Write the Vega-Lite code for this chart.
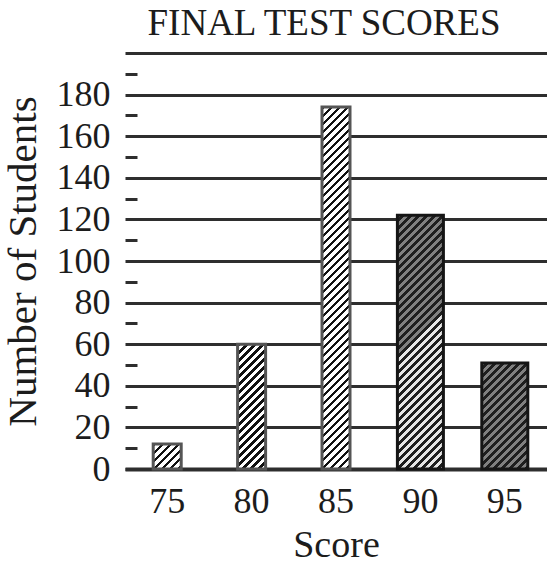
{
"$schema": "https://vega.github.io/schema/vega-lite/v6.json",
"width": 422,
"height": 416,
"autosize": {"type": "none"},
"padding": {"left": 125, "top": 53, "right": 0, "bottom": 96},
"background": "white",
"title": {"text": "FINAL TEST SCORES", "font": "Liberation Serif", "fontSize": 37, "fontWeight": "normal", "color": "#1c1c1c", "anchor": "middle", "dx": -12, "baseline": "alphabetic", "offset": -19},
"data": {"values": [
{"score": 75, "students": 12},
{"score": 80, "students": 60},
{"score": 85, "students": 174},
{"score": 90, "students": 122},
{"score": 95, "students": 51}
]},
"mark": {"type": "bar", "strokeWidth": 3},
"encoding": {
"x": {"field": "score", "type": "ordinal", "scale": {"paddingInner": 0, "paddingOuter": 0},
 "axis": {"title": "Score", "titleFont": "Liberation Serif", "titleFontSize": 38, "titleFontWeight": "normal", "titleColor": "#1c1c1c", "titlePadding": 7,
  "labelFont": "Liberation Serif", "labelFontSize": 36, "labelColor": "#1c1c1c", "labelAngle": 0, "labelPadding": 15, "ticks": false, "tickSize": 0,
  "domainColor": "#2e2e2e", "domainWidth": 4}},
"y": {"field": "students", "type": "quantitative", "scale": {"domain": [0, 200]},
 "axis": {"title": "Number of Students", "titleFont": "Liberation Serif", "titleFontSize": 41, "titleFontWeight": "normal", "titleColor": "#1c1c1c", "titlePadding": 12,
  "values": [0,10,20,30,40,50,60,70,80,90,100,110,120,130,140,150,160,170,180,190,200],
  "labelExpr": "datum.value % 20 === 0 && datum.value < 200 ? datum.label : ''",
  "labelFont": "Liberation Serif", "labelFontSize": 36, "labelColor": "#1c1c1c", "labelPadding": 27,
  "domain": false, "grid": true, "gridColor": "#2e2e2e", "gridWidth": 3,
  "gridOpacity": {"condition": {"test": "datum.value % 20 === 0", "value": 1}, "value": 0},
  "tickSize": -12, "tickWidth": 3, "tickColor": "#2e2e2e",
  "tickOpacity": {"condition": {"test": "datum.value % 20 !== 0", "value": 1}, "value": 0}}},
"size": {"condition": {"test": "datum.score >= 90", "value": 46}, "value": 28},
"stroke": {"condition": {"test": "datum.score >= 90", "value": "#151515"}, "value": "#555555"},
"fill": {"condition": [
{"test": "datum.score === 75", "value": {"gradient": "linear", "x1": 0, "y1": 0, "x2": 7.949, "y2": 7.097, "stops": [
{"offset":0,"color":"#111"},{"offset":0.009,"color":"#111"},{"offset":0.009,"color":"#fff"},{"offset":0.02,"color":"#fff"},
{"offset":0.02,"color":"#111"},{"offset":0.029,"color":"#111"},{"offset":0.029,"color":"#fff"},{"offset":0.04,"color":"#fff"},
{"offset":0.04,"color":"#111"},{"offset":0.049,"color":"#111"},{"offset":0.049,"color":"#fff"},{"offset":0.06,"color":"#fff"},
{"offset":0.06,"color":"#111"},{"offset":0.069,"color":"#111"},{"offset":0.069,"color":"#fff"},{"offset":0.08,"color":"#fff"},
{"offset":0.08,"color":"#111"},{"offset":0.089,"color":"#111"},{"offset":0.089,"color":"#fff"},{"offset":0.1,"color":"#fff"},
{"offset":0.1,"color":"#111"},{"offset":0.109,"color":"#111"},{"offset":0.109,"color":"#fff"},{"offset":0.12,"color":"#fff"},
{"offset":0.12,"color":"#111"},{"offset":0.129,"color":"#111"},{"offset":0.129,"color":"#fff"},{"offset":0.14,"color":"#fff"}
]}},
{"test": "datum.score === 80", "value": {"gradient": "linear", "x1": 0, "y1": 0, "x2": 0.6846, "y2": 3.0515, "stops": [
{"offset":0,"color":"#111"},{"offset":0.009,"color":"#111"},{"offset":0.009,"color":"#fff"},{"offset":0.02,"color":"#fff"},
{"offset":0.02,"color":"#111"},{"offset":0.029,"color":"#111"},{"offset":0.029,"color":"#fff"},{"offset":0.04,"color":"#fff"},
{"offset":0.04,"color":"#111"},{"offset":0.049,"color":"#111"},{"offset":0.049,"color":"#fff"},{"offset":0.06,"color":"#fff"},
{"offset":0.06,"color":"#111"},{"offset":0.069,"color":"#111"},{"offset":0.069,"color":"#fff"},{"offset":0.08,"color":"#fff"},
{"offset":0.08,"color":"#111"},{"offset":0.089,"color":"#111"},{"offset":0.089,"color":"#fff"},{"offset":0.1,"color":"#fff"},
{"offset":0.1,"color":"#111"},{"offset":0.109,"color":"#111"},{"offset":0.109,"color":"#fff"},{"offset":0.12,"color":"#fff"},
{"offset":0.12,"color":"#111"},{"offset":0.129,"color":"#111"},{"offset":0.129,"color":"#fff"},{"offset":0.14,"color":"#fff"},
{"offset":0.14,"color":"#111"},{"offset":0.149,"color":"#111"},{"offset":0.149,"color":"#fff"},{"offset":0.16,"color":"#fff"},
{"offset":0.16,"color":"#111"},{"offset":0.169,"color":"#111"},{"offset":0.169,"color":"#fff"},{"offset":0.18,"color":"#fff"},
{"offset":0.18,"color":"#111"},{"offset":0.189,"color":"#111"},{"offset":0.189,"color":"#fff"},{"offset":0.2,"color":"#fff"},
{"offset":0.2,"color":"#111"},{"offset":0.209,"color":"#111"},{"offset":0.209,"color":"#fff"},{"offset":0.22,"color":"#fff"},
{"offset":0.22,"color":"#111"},{"offset":0.229,"color":"#111"},{"offset":0.229,"color":"#fff"},{"offset":0.24,"color":"#fff"},
{"offset":0.24,"color":"#111"},{"offset":0.249,"color":"#111"},{"offset":0.249,"color":"#fff"},{"offset":0.26,"color":"#fff"},
{"offset":0.26,"color":"#111"},{"offset":0.269,"color":"#111"},{"offset":0.269,"color":"#fff"},{"offset":0.28,"color":"#fff"},
{"offset":0.28,"color":"#111"},{"offset":0.289,"color":"#111"},{"offset":0.289,"color":"#fff"},{"offset":0.3,"color":"#fff"},
{"offset":0.3,"color":"#111"},{"offset":0.309,"color":"#111"},{"offset":0.309,"color":"#fff"},{"offset":0.32,"color":"#fff"},
{"offset":0.32,"color":"#111"},{"offset":0.329,"color":"#111"},{"offset":0.329,"color":"#fff"},{"offset":0.34,"color":"#fff"},
{"offset":0.34,"color":"#111"},{"offset":0.349,"color":"#111"},{"offset":0.349,"color":"#fff"},{"offset":0.36,"color":"#fff"},
{"offset":0.36,"color":"#111"},{"offset":0.369,"color":"#111"},{"offset":0.369,"color":"#fff"},{"offset":0.38,"color":"#fff"}
]}},
{"test": "datum.score === 85", "value": {"gradient": "linear", "x1": 0, "y1": 0, "x2": 0.085, "y2": 1.0987, "stops": [
{"offset":0,"color":"#111"},{"offset":0.009,"color":"#111"},{"offset":0.009,"color":"#fff"},{"offset":0.02,"color":"#fff"},
{"offset":0.02,"color":"#111"},{"offset":0.029,"color":"#111"},{"offset":0.029,"color":"#fff"},{"offset":0.04,"color":"#fff"},
{"offset":0.04,"color":"#111"},{"offset":0.049,"color":"#111"},{"offset":0.049,"color":"#fff"},{"offset":0.06,"color":"#fff"},
{"offset":0.06,"color":"#111"},{"offset":0.069,"color":"#111"},{"offset":0.069,"color":"#fff"},{"offset":0.08,"color":"#fff"},
{"offset":0.08,"color":"#111"},{"offset":0.089,"color":"#111"},{"offset":0.089,"color":"#fff"},{"offset":0.1,"color":"#fff"},
{"offset":0.1,"color":"#111"},{"offset":0.109,"color":"#111"},{"offset":0.109,"color":"#fff"},{"offset":0.12,"color":"#fff"},
{"offset":0.12,"color":"#111"},{"offset":0.129,"color":"#111"},{"offset":0.129,"color":"#fff"},{"offset":0.14,"color":"#fff"},
{"offset":0.14,"color":"#111"},{"offset":0.149,"color":"#111"},{"offset":0.149,"color":"#fff"},{"offset":0.16,"color":"#fff"},
{"offset":0.16,"color":"#111"},{"offset":0.169,"color":"#111"},{"offset":0.169,"color":"#fff"},{"offset":0.18,"color":"#fff"},
{"offset":0.18,"color":"#111"},{"offset":0.189,"color":"#111"},{"offset":0.189,"color":"#fff"},{"offset":0.2,"color":"#fff"},
{"offset":0.2,"color":"#111"},{"offset":0.209,"color":"#111"},{"offset":0.209,"color":"#fff"},{"offset":0.22,"color":"#fff"},
{"offset":0.22,"color":"#111"},{"offset":0.229,"color":"#111"},{"offset":0.229,"color":"#fff"},{"offset":0.24,"color":"#fff"},
{"offset":0.24,"color":"#111"},{"offset":0.249,"color":"#111"},{"offset":0.249,"color":"#fff"},{"offset":0.26,"color":"#fff"},
{"offset":0.26,"color":"#111"},{"offset":0.269,"color":"#111"},{"offset":0.269,"color":"#fff"},{"offset":0.28,"color":"#fff"},
{"offset":0.28,"color":"#111"},{"offset":0.289,"color":"#111"},{"offset":0.289,"color":"#fff"},{"offset":0.3,"color":"#fff"},
{"offset":0.3,"color":"#111"},{"offset":0.309,"color":"#111"},{"offset":0.309,"color":"#fff"},{"offset":0.32,"color":"#fff"},
{"offset":0.32,"color":"#111"},{"offset":0.329,"color":"#111"},{"offset":0.329,"color":"#fff"},{"offset":0.34,"color":"#fff"},
{"offset":0.34,"color":"#111"},{"offset":0.349,"color":"#111"},{"offset":0.349,"color":"#fff"},{"offset":0.36,"color":"#fff"},
{"offset":0.36,"color":"#111"},{"offset":0.369,"color":"#111"},{"offset":0.369,"color":"#fff"},{"offset":0.38,"color":"#fff"},
{"offset":0.38,"color":"#111"},{"offset":0.389,"color":"#111"},{"offset":0.389,"color":"#fff"},{"offset":0.4,"color":"#fff"},
{"offset":0.4,"color":"#111"},{"offset":0.409,"color":"#111"},{"offset":0.409,"color":"#fff"},{"offset":0.42,"color":"#fff"},
{"offset":0.42,"color":"#111"},{"offset":0.429,"color":"#111"},{"offset":0.429,"color":"#fff"},{"offset":0.44,"color":"#fff"},
{"offset":0.44,"color":"#111"},{"offset":0.449,"color":"#111"},{"offset":0.449,"color":"#fff"},{"offset":0.46,"color":"#fff"},
{"offset":0.46,"color":"#111"},{"offset":0.469,"color":"#111"},{"offset":0.469,"color":"#fff"},{"offset":0.48,"color":"#fff"},
{"offset":0.48,"color":"#111"},{"offset":0.489,"color":"#111"},{"offset":0.489,"color":"#fff"},{"offset":0.5,"color":"#fff"},
{"offset":0.5,"color":"#111"},{"offset":0.509,"color":"#111"},{"offset":0.509,"color":"#fff"},{"offset":0.52,"color":"#fff"},
{"offset":0.52,"color":"#111"},{"offset":0.529,"color":"#111"},{"offset":0.529,"color":"#fff"},{"offset":0.54,"color":"#fff"},
{"offset":0.54,"color":"#111"},{"offset":0.549,"color":"#111"},{"offset":0.549,"color":"#fff"},{"offset":0.56,"color":"#fff"},
{"offset":0.56,"color":"#111"},{"offset":0.569,"color":"#111"},{"offset":0.569,"color":"#fff"},{"offset":0.58,"color":"#fff"},
{"offset":0.58,"color":"#111"},{"offset":0.589,"color":"#111"},{"offset":0.589,"color":"#fff"},{"offset":0.6,"color":"#fff"},
{"offset":0.6,"color":"#111"},{"offset":0.609,"color":"#111"},{"offset":0.609,"color":"#fff"},{"offset":0.62,"color":"#fff"},
{"offset":0.62,"color":"#111"},{"offset":0.629,"color":"#111"},{"offset":0.629,"color":"#fff"},{"offset":0.64,"color":"#fff"},
{"offset":0.64,"color":"#111"},{"offset":0.649,"color":"#111"},{"offset":0.649,"color":"#fff"},{"offset":0.66,"color":"#fff"},
{"offset":0.66,"color":"#111"},{"offset":0.669,"color":"#111"},{"offset":0.669,"color":"#fff"},{"offset":0.68,"color":"#fff"},
{"offset":0.68,"color":"#111"},{"offset":0.689,"color":"#111"},{"offset":0.689,"color":"#fff"},{"offset":0.7,"color":"#fff"},
{"offset":0.7,"color":"#111"},{"offset":0.709,"color":"#111"},{"offset":0.709,"color":"#fff"},{"offset":0.72,"color":"#fff"},
{"offset":0.72,"color":"#111"},{"offset":0.729,"color":"#111"},{"offset":0.729,"color":"#fff"},{"offset":0.74,"color":"#fff"},
{"offset":0.74,"color":"#111"},{"offset":0.749,"color":"#111"},{"offset":0.749,"color":"#fff"},{"offset":0.76,"color":"#fff"},
{"offset":0.76,"color":"#111"},{"offset":0.769,"color":"#111"},{"offset":0.769,"color":"#fff"},{"offset":0.78,"color":"#fff"},
{"offset":0.78,"color":"#111"},{"offset":0.789,"color":"#111"},{"offset":0.789,"color":"#fff"},{"offset":0.8,"color":"#fff"},
{"offset":0.8,"color":"#111"},{"offset":0.809,"color":"#111"},{"offset":0.809,"color":"#fff"},{"offset":0.82,"color":"#fff"},
{"offset":0.82,"color":"#111"},{"offset":0.829,"color":"#111"},{"offset":0.829,"color":"#fff"},{"offset":0.84,"color":"#fff"},
{"offset":0.84,"color":"#111"},{"offset":0.849,"color":"#111"},{"offset":0.849,"color":"#fff"},{"offset":0.86,"color":"#fff"},
{"offset":0.86,"color":"#111"},{"offset":0.869,"color":"#111"},{"offset":0.869,"color":"#fff"},{"offset":0.88,"color":"#fff"},
{"offset":0.88,"color":"#111"},{"offset":0.889,"color":"#111"},{"offset":0.889,"color":"#fff"},{"offset":0.9,"color":"#fff"},
{"offset":0.9,"color":"#111"},{"offset":0.909,"color":"#111"},{"offset":0.909,"color":"#fff"},{"offset":0.92,"color":"#fff"},
{"offset":0.92,"color":"#111"},{"offset":0.929,"color":"#111"},{"offset":0.929,"color":"#fff"},{"offset":0.94,"color":"#fff"},
{"offset":0.94,"color":"#111"},{"offset":0.949,"color":"#111"},{"offset":0.949,"color":"#fff"},{"offset":0.96,"color":"#fff"},
{"offset":0.96,"color":"#111"},{"offset":0.969,"color":"#111"},{"offset":0.969,"color":"#fff"},{"offset":0.98,"color":"#fff"}
]}},
{"test": "datum.score === 90", "value": {"gradient": "linear", "x1": 0, "y1": 0, "x2": 0.2766, "y2": 1.5259, "stops": [
{"offset":0,"color":"#808080"},{"offset":0.009,"color":"#808080"},{"offset":0.009,"color":"#1e1e1e"},{"offset":0.02,"color":"#1e1e1e"},
{"offset":0.02,"color":"#808080"},{"offset":0.029,"color":"#808080"},{"offset":0.029,"color":"#1e1e1e"},{"offset":0.04,"color":"#1e1e1e"},
{"offset":0.04,"color":"#808080"},{"offset":0.049,"color":"#808080"},{"offset":0.049,"color":"#1e1e1e"},{"offset":0.06,"color":"#1e1e1e"},
{"offset":0.06,"color":"#808080"},{"offset":0.069,"color":"#808080"},{"offset":0.069,"color":"#1e1e1e"},{"offset":0.08,"color":"#1e1e1e"},
{"offset":0.08,"color":"#808080"},{"offset":0.089,"color":"#808080"},{"offset":0.089,"color":"#1e1e1e"},{"offset":0.1,"color":"#1e1e1e"},
{"offset":0.1,"color":"#808080"},{"offset":0.109,"color":"#808080"},{"offset":0.109,"color":"#1e1e1e"},{"offset":0.12,"color":"#1e1e1e"},
{"offset":0.12,"color":"#808080"},{"offset":0.129,"color":"#808080"},{"offset":0.129,"color":"#1e1e1e"},{"offset":0.14,"color":"#1e1e1e"},
{"offset":0.14,"color":"#808080"},{"offset":0.149,"color":"#808080"},{"offset":0.149,"color":"#1e1e1e"},{"offset":0.16,"color":"#1e1e1e"},
{"offset":0.16,"color":"#808080"},{"offset":0.169,"color":"#808080"},{"offset":0.169,"color":"#1e1e1e"},{"offset":0.18,"color":"#1e1e1e"},
{"offset":0.18,"color":"#808080"},{"offset":0.189,"color":"#808080"},{"offset":0.189,"color":"#1e1e1e"},{"offset":0.2,"color":"#1e1e1e"},
{"offset":0.2,"color":"#808080"},{"offset":0.209,"color":"#808080"},{"offset":0.209,"color":"#1e1e1e"},{"offset":0.22,"color":"#1e1e1e"},
{"offset":0.22,"color":"#808080"},{"offset":0.229,"color":"#808080"},{"offset":0.229,"color":"#1e1e1e"},{"offset":0.24,"color":"#1e1e1e"},
{"offset":0.24,"color":"#808080"},{"offset":0.249,"color":"#808080"},{"offset":0.249,"color":"#1e1e1e"},{"offset":0.26,"color":"#1e1e1e"},
{"offset":0.26,"color":"#808080"},{"offset":0.269,"color":"#808080"},{"offset":0.269,"color":"#1e1e1e"},{"offset":0.28,"color":"#1e1e1e"},
{"offset":0.28,"color":"#808080"},{"offset":0.289,"color":"#808080"},{"offset":0.289,"color":"#1e1e1e"},{"offset":0.3,"color":"#1e1e1e"},
{"offset":0.3,"color":"#808080"},{"offset":0.309,"color":"#808080"},{"offset":0.309,"color":"#1e1e1e"},{"offset":0.32,"color":"#1e1e1e"},
{"offset":0.32,"color":"#808080"},{"offset":0.329,"color":"#808080"},{"offset":0.329,"color":"#1e1e1e"},{"offset":0.34,"color":"#1e1e1e"},
{"offset":0.34,"color":"#808080"},{"offset":0.349,"color":"#808080"},{"offset":0.349,"color":"#1e1e1e"},{"offset":0.36,"color":"#1e1e1e"},
{"offset":0.36,"color":"#e6e6e6"},{"offset":0.369,"color":"#e6e6e6"},{"offset":0.369,"color":"#1e1e1e"},{"offset":0.38,"color":"#1e1e1e"},
{"offset":0.38,"color":"#e6e6e6"},{"offset":0.389,"color":"#e6e6e6"},{"offset":0.389,"color":"#1e1e1e"},{"offset":0.4,"color":"#1e1e1e"},
{"offset":0.4,"color":"#e6e6e6"},{"offset":0.409,"color":"#e6e6e6"},{"offset":0.409,"color":"#1e1e1e"},{"offset":0.42,"color":"#1e1e1e"},
{"offset":0.42,"color":"#e6e6e6"},{"offset":0.429,"color":"#e6e6e6"},{"offset":0.429,"color":"#1e1e1e"},{"offset":0.44,"color":"#1e1e1e"},
{"offset":0.44,"color":"#e6e6e6"},{"offset":0.449,"color":"#e6e6e6"},{"offset":0.449,"color":"#1e1e1e"},{"offset":0.46,"color":"#1e1e1e"},
{"offset":0.46,"color":"#e6e6e6"},{"offset":0.469,"color":"#e6e6e6"},{"offset":0.469,"color":"#1e1e1e"},{"offset":0.48,"color":"#1e1e1e"},
{"offset":0.48,"color":"#e6e6e6"},{"offset":0.489,"color":"#e6e6e6"},{"offset":0.489,"color":"#1e1e1e"},{"offset":0.5,"color":"#1e1e1e"},
{"offset":0.5,"color":"#e6e6e6"},{"offset":0.509,"color":"#e6e6e6"},{"offset":0.509,"color":"#1e1e1e"},{"offset":0.52,"color":"#1e1e1e"},
{"offset":0.52,"color":"#e6e6e6"},{"offset":0.529,"color":"#e6e6e6"},{"offset":0.529,"color":"#1e1e1e"},{"offset":0.54,"color":"#1e1e1e"},
{"offset":0.54,"color":"#e6e6e6"},{"offset":0.549,"color":"#e6e6e6"},{"offset":0.549,"color":"#1e1e1e"},{"offset":0.56,"color":"#1e1e1e"},
{"offset":0.56,"color":"#e6e6e6"},{"offset":0.569,"color":"#e6e6e6"},{"offset":0.569,"color":"#1e1e1e"},{"offset":0.58,"color":"#1e1e1e"},
{"offset":0.58,"color":"#e6e6e6"},{"offset":0.589,"color":"#e6e6e6"},{"offset":0.589,"color":"#1e1e1e"},{"offset":0.6,"color":"#1e1e1e"},
{"offset":0.6,"color":"#e6e6e6"},{"offset":0.609,"color":"#e6e6e6"},{"offset":0.609,"color":"#1e1e1e"},{"offset":0.62,"color":"#1e1e1e"},
{"offset":0.62,"color":"#e6e6e6"},{"offset":0.629,"color":"#e6e6e6"},{"offset":0.629,"color":"#1e1e1e"},{"offset":0.64,"color":"#1e1e1e"},
{"offset":0.64,"color":"#e6e6e6"},{"offset":0.649,"color":"#e6e6e6"},{"offset":0.649,"color":"#1e1e1e"},{"offset":0.66,"color":"#1e1e1e"},
{"offset":0.66,"color":"#e6e6e6"},{"offset":0.669,"color":"#e6e6e6"},{"offset":0.669,"color":"#1e1e1e"},{"offset":0.68,"color":"#1e1e1e"},
{"offset":0.68,"color":"#e6e6e6"},{"offset":0.689,"color":"#e6e6e6"},{"offset":0.689,"color":"#1e1e1e"},{"offset":0.7,"color":"#1e1e1e"},
{"offset":0.7,"color":"#e6e6e6"},{"offset":0.709,"color":"#e6e6e6"},{"offset":0.709,"color":"#1e1e1e"},{"offset":0.72,"color":"#1e1e1e"},
{"offset":0.72,"color":"#e6e6e6"},{"offset":0.729,"color":"#e6e6e6"},{"offset":0.729,"color":"#1e1e1e"},{"offset":0.74,"color":"#1e1e1e"},
{"offset":0.74,"color":"#e6e6e6"},{"offset":0.749,"color":"#e6e6e6"},{"offset":0.749,"color":"#1e1e1e"},{"offset":0.76,"color":"#1e1e1e"}
]}}
],
"value": {"gradient": "linear", "x1": 0, "y1": 0, "x2": 1.3759, "y2": 3.1736, "stops": [
{"offset":0,"color":"#808080"},{"offset":0.009,"color":"#808080"},{"offset":0.009,"color":"#1e1e1e"},{"offset":0.02,"color":"#1e1e1e"},
{"offset":0.02,"color":"#808080"},{"offset":0.029,"color":"#808080"},{"offset":0.029,"color":"#1e1e1e"},{"offset":0.04,"color":"#1e1e1e"},
{"offset":0.04,"color":"#808080"},{"offset":0.049,"color":"#808080"},{"offset":0.049,"color":"#1e1e1e"},{"offset":0.06,"color":"#1e1e1e"},
{"offset":0.06,"color":"#808080"},{"offset":0.069,"color":"#808080"},{"offset":0.069,"color":"#1e1e1e"},{"offset":0.08,"color":"#1e1e1e"},
{"offset":0.08,"color":"#808080"},{"offset":0.089,"color":"#808080"},{"offset":0.089,"color":"#1e1e1e"},{"offset":0.1,"color":"#1e1e1e"},
{"offset":0.1,"color":"#808080"},{"offset":0.109,"color":"#808080"},{"offset":0.109,"color":"#1e1e1e"},{"offset":0.12,"color":"#1e1e1e"},
{"offset":0.12,"color":"#808080"},{"offset":0.129,"color":"#808080"},{"offset":0.129,"color":"#1e1e1e"},{"offset":0.14,"color":"#1e1e1e"},
{"offset":0.14,"color":"#808080"},{"offset":0.149,"color":"#808080"},{"offset":0.149,"color":"#1e1e1e"},{"offset":0.16,"color":"#1e1e1e"},
{"offset":0.16,"color":"#808080"},{"offset":0.169,"color":"#808080"},{"offset":0.169,"color":"#1e1e1e"},{"offset":0.18,"color":"#1e1e1e"},
{"offset":0.18,"color":"#808080"},{"offset":0.189,"color":"#808080"},{"offset":0.189,"color":"#1e1e1e"},{"offset":0.2,"color":"#1e1e1e"},
{"offset":0.2,"color":"#808080"},{"offset":0.209,"color":"#808080"},{"offset":0.209,"color":"#1e1e1e"},{"offset":0.22,"color":"#1e1e1e"},
{"offset":0.22,"color":"#808080"},{"offset":0.229,"color":"#808080"},{"offset":0.229,"color":"#1e1e1e"},{"offset":0.24,"color":"#1e1e1e"},
{"offset":0.24,"color":"#808080"},{"offset":0.249,"color":"#808080"},{"offset":0.249,"color":"#1e1e1e"},{"offset":0.26,"color":"#1e1e1e"},
{"offset":0.26,"color":"#808080"},{"offset":0.269,"color":"#808080"},{"offset":0.269,"color":"#1e1e1e"},{"offset":0.28,"color":"#1e1e1e"},
{"offset":0.28,"color":"#808080"},{"offset":0.289,"color":"#808080"},{"offset":0.289,"color":"#1e1e1e"},{"offset":0.3,"color":"#1e1e1e"},
{"offset":0.3,"color":"#808080"},{"offset":0.309,"color":"#808080"},{"offset":0.309,"color":"#1e1e1e"},{"offset":0.32,"color":"#1e1e1e"},
{"offset":0.32,"color":"#808080"},{"offset":0.329,"color":"#808080"},{"offset":0.329,"color":"#1e1e1e"},{"offset":0.34,"color":"#1e1e1e"},
{"offset":0.34,"color":"#808080"},{"offset":0.349,"color":"#808080"},{"offset":0.349,"color":"#1e1e1e"},{"offset":0.36,"color":"#1e1e1e"},
{"offset":0.36,"color":"#808080"},{"offset":0.369,"color":"#808080"},{"offset":0.369,"color":"#1e1e1e"},{"offset":0.38,"color":"#1e1e1e"}
]}}
},
"config": {"view": {"stroke": null}}
}
